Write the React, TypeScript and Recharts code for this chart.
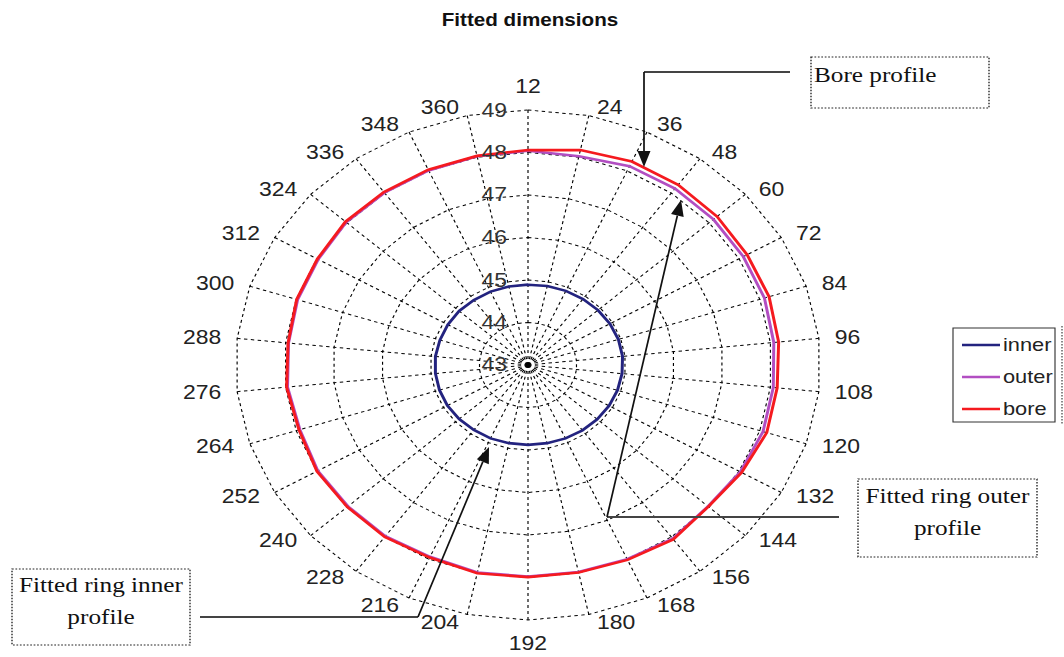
import React from 'react';
import { RadarChart, PolarGrid, PolarAngleAxis, PolarRadiusAxis, Radar } from 'recharts';

// the source picture is stretched sideways, so the whole scene is drawn narrow and scaled by K
const K = 1.147;
const W = 1064 / K;
const CX = 528; // screen px
const CY = 365;
const R = 255;

const angleLabels = ['12', '24', '36', '48', '60', '72', '84', '96', '108', '120', '132', '144', '156', '168', '180',
  '192', '204', '216', '228', '240', '252', '264', '276', '288', '300', '312', '324', '336', '348', '360'];

const innerValues = [44.89, 44.9, 44.91, 44.92, 44.93, 44.94, 44.95, 44.95, 44.94, 44.93, 44.92, 44.91, 44.9, 44.89, 44.88,
  44.88, 44.88, 44.89, 44.89, 44.9, 44.91, 44.91, 44.91, 44.91, 44.9, 44.9, 44.9, 44.89, 44.89, 44.89];
const outerValues = [48.04, 48.02, 48.12, 48.13, 48.12, 48.1, 48.1, 48.07, 48.06, 48.07, 48.03, 47.97, 48.05, 48.0, 47.98,
  47.98, 47.99, 47.94, 47.98, 47.97, 47.98, 47.92, 47.96, 47.94, 47.97, 47.97, 48.02, 48.01, 48.01, 48.02];
const boreValues = [48.06, 48.17, 48.24, 48.24, 48.22, 48.19, 48.2, 48.17, 48.14, 48.15, 48.06, 47.98, 48.07, 48.02, 47.99,
  47.99, 48.01, 47.96, 48.0, 47.99, 48.0, 47.94, 47.98, 47.95, 47.99, 47.99, 48.04, 48.03, 48.03, 48.03];

const radiusTicks = [43, 44, 45, 46, 47, 48, 49];

const series = [
  { key: 'inner', color: '#23237f' },
  { key: 'outer', color: '#b24ec2' },
  { key: 'bore', color: '#f51a1f' },
];

const data = angleLabels.map((a, i) => ({
  angle: a,
  inner: innerValues[i],
  outer: outerValues[i],
  bore: boreValues[i],
}));

const SANS = '"Liberation Sans", Arial, sans-serif';
const SERIF = '"Liberation Serif", "Times New Roman", serif';

const AngleTick = (props: any) => {
  const { payload } = props;
  const i = typeof props.index === 'number' ? props.index : payload.index;
  const th = ((i * 360) / angleLabels.length) * Math.PI / 180;
  const s = Math.sin(th);
  const c = Math.cos(th);
  const vx = CX + R * K * s;
  const vy = CY - R * c;
  let x = vx, y = vy, anchor = 'middle';
  if (Math.abs(s) < 0.05) {
    y = vy - 24 * Math.sign(c);
  } else {
    x = vx + Math.sign(s) * (6 + 10 * Math.abs(s));
    y = vy - 8 * c;
    anchor = s > 0 ? 'start' : 'end';
  }
  return (
    <text x={x / K} y={y} textAnchor={anchor} dominantBaseline="central" fontSize={20} fill="#222" fontFamily={SANS}>
      {payload.value}
    </text>
  );
};

const RadiusTick = (props: any) => {
  const { x, y, payload } = props;
  return (
    <text x={x - 21 / K} y={y} textAnchor="end" dominantBaseline="central" fontSize={20} fill="#333" fontFamily={SANS}>
      {payload.value}
    </text>
  );
};

// arrow drawn in screen coordinates, x divided by K
const Arrow = ({ x1, y1, x2, y2 }: { x1: number; y1: number; x2: number; y2: number }) => {
  const dx = x2 - x1, dy = y2 - y1;
  const len = Math.sqrt(dx * dx + dy * dy);
  const ux = dx / len, uy = dy / len;
  const bx = x2 - ux * 16, by = y2 - uy * 16;
  const nx = -uy * 6.5, ny = ux * 6.5;
  const pts = [[x2, y2], [bx + nx, by + ny], [bx - nx, by - ny]].map(p => `${p[0] / K},${p[1]}`).join(' ');
  return (
    <g>
      <line x1={x1 / K} y1={y1} x2={bx / K} y2={by} stroke="#111" strokeWidth={1.5} />
      <polygon points={pts} fill="#111" />
    </g>
  );
};

const Box = ({ x1, y1, x2, y2 }: { x1: number; y1: number; x2: number; y2: number }) => (
  <rect x={x1 / K} y={y1} width={(x2 - x1) / K} height={y2 - y1} fill="none" stroke="#222" strokeWidth={1.2} strokeDasharray="1.5 1.5" />
);

const Connector = ({ x1, x2, y }: { x1: number; x2: number; y: number }) => (
  <line x1={x1 / K} y1={y} x2={x2 / K} y2={y} stroke="#444" strokeWidth={2.2} />
);

export default function App() {
  return (
    <div style={{ position: 'absolute', left: 0, top: 0, width: 1064, height: 657, background: '#fff', overflow: 'hidden' }}>
      <div style={{ position: 'absolute', left: 0, top: 0, width: W, height: 657, transform: `scaleX(${K})`, transformOrigin: '0 0' }}>
        <div style={{ position: 'absolute', left: 0, top: 0 }}>
          <RadarChart width={Math.round(W)} height={657} data={data} cx={CX / K} cy={CY} outerRadius={R}
            margin={{ top: 0, right: 0, bottom: 0, left: 0 }}>
            <PolarGrid gridType="polygon" stroke="#000" strokeWidth={1} strokeDasharray="3 3" />
            <PolarAngleAxis dataKey="angle" tick={<AngleTick />} tickLine={false} axisLine={false} />
            <PolarRadiusAxis angle={90} type="number" domain={[43, 49]} ticks={radiusTicks} tickCount={7}
              axisLine={false} tickLine={false} tick={<RadiusTick />} />
            {series.map(s => (
              <Radar key={s.key} name={s.key} dataKey={s.key} stroke={s.color} strokeWidth={2.6} fill="none"
                fillOpacity={0} dot={false} isAnimationActive={false} />
            ))}
          </RadarChart>
        </div>
        <svg width={W} height={657} style={{ position: 'absolute', left: 0, top: 0, pointerEvents: 'none' }}>
          <text x={530 / K} y={26} textAnchor="middle" fontSize={18} fontWeight="bold" fill="#111" fontFamily={SANS}>
            Fitted dimensions
          </text>

          {/* legend */}
          <rect x={953 / K} y={328} width={102 / K} height={94} fill="#fff" stroke="#333" strokeWidth={1} />
          {series.map((s, i) => {
            const y = 345 + i * 32;
            return (
              <g key={s.key}>
                <line x1={962 / K} y1={y} x2={1000 / K} y2={y} stroke={s.color} strokeWidth={2.6} />
                <text x={1003 / K} y={y + 6} fontSize={19} fill="#222" fontFamily={SANS}>{s.key}</text>
              </g>
            );
          })}
          <line x1={1062 / K} y1={326} x2={1062 / K} y2={424} stroke="#333" strokeWidth={1} strokeDasharray="1.5 1.5" />

          {/* bore profile note */}
          <Box x1={811} y1={57} x2={989} y2={108} />
          <text x={814 / K} y={82} fontSize={22} fill="#111" fontFamily={SERIF}>Bore profile</text>
          <Connector x1={790} x2={644} y={72} />
          <Arrow x1={644} y1={72} x2={644} y2={167} />

          {/* outer profile note */}
          <Box x1={858} y1={479} x2={1037} y2={557} />
          <text x={947.5 / K} y={503} textAnchor="middle" fontSize={22} fill="#111" fontFamily={SERIF}>Fitted ring outer</text>
          <text x={947.5 / K} y={535} textAnchor="middle" fontSize={22} fill="#111" fontFamily={SERIF}>profile</text>
          <Connector x1={839} x2={607} y={517} />
          <Arrow x1={607} y1={517} x2={681} y2={200} />

          {/* inner profile note */}
          <Box x1={12} y1={569} x2={190} y2={645} />
          <text x={101 / K} y={592} textAnchor="middle" fontSize={22} fill="#111" fontFamily={SERIF}>Fitted ring inner</text>
          <text x={101 / K} y={624} textAnchor="middle" fontSize={22} fill="#111" fontFamily={SERIF}>profile</text>
          <Connector x1={200} x2={418} y={617} />
          <Arrow x1={418} y1={617} x2={489} y2={447} />
        </svg>
      </div>
    </div>
  );
}
